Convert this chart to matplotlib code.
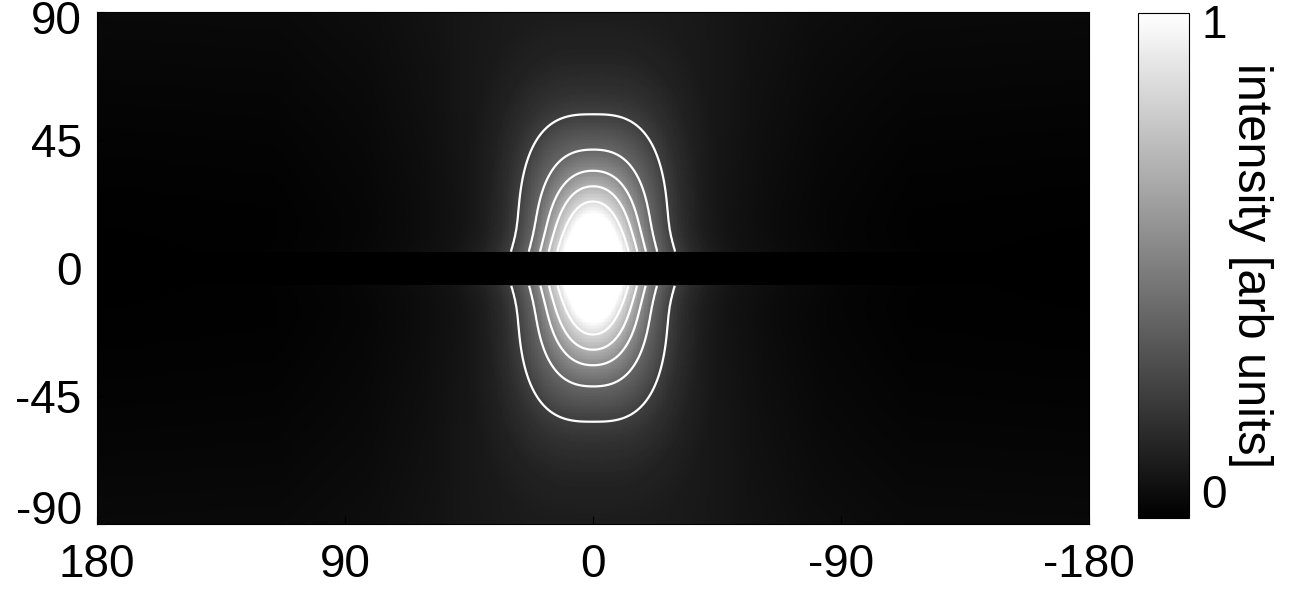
import numpy as np
import matplotlib
matplotlib.use("Agg")
import matplotlib.pyplot as plt
from matplotlib.transforms import ScaledTranslation


# axis ticks (longitude runs from +180 on the left to -180 on the right)
LON_TICKS = [180, 90, 0, -90, -180]
LAT_TICKS = [-90, -45, 0, 45, 90]
CBAR_TICKS = [0, 1]

# contour levels drawn in white
CONTOUR_LEVELS = [0.25, 0.40, 0.55, 0.70, 0.85]

# radial intensity profile (r in latitude-equivalent degrees)
PROFILE_R = [0, 12, 19, 23.2, 28.5, 33.8, 40.8, 52, 62, 75, 90, 120, 160, 220, 400]
PROFILE_I = [1.5, 1.2, 1.0, 0.85, 0.70, 0.55, 0.40, 0.25, 0.17, 0.11, 0.075, 0.045, 0.02, 0.004, 0.0]

# faint background that grows toward the poles
POLAR_FLOOR = 0.035

# shape of the bright lobe
ASPECT = 1.9          # lat extent / lon extent
INNER_POWER = 2.0     # elliptical core
OUTER_POWER = 2.9     # boxier outer lobe
BULGE_AMP = 0.12      # widening close to the equator
BULGE_WIDTH = 10.0    # deg

# blanked strip along the equator
GAP_LAT = [-6.2, 5.4]

FONT = "Liberation Sans"
FS = 33


def build_field():
    lon = np.arange(-179.75, 180, 0.5)
    lat = np.arange(-89.75, 90, 0.5)
    LON, LAT = np.meshgrid(lon, lat)
    lon_w = np.abs(LON) / (1 + BULGE_AMP * np.exp(-(LAT / BULGE_WIDTH) ** 2)) * ASPECT
    alat = np.abs(LAT)
    r_in = (lon_w ** INNER_POWER + alat ** INNER_POWER) ** (1 / INNER_POWER)
    r_out = (lon_w ** OUTER_POWER + alat ** OUTER_POWER) ** (1 / OUTER_POWER)
    w = np.clip((r_out - 18) / 32, 0, 1)
    r = r_in * (1 - w) + r_out * w
    field = np.interp(r, PROFILE_R, PROFILE_I) + POLAR_FLOOR * (alat / 90) ** 1.5
    gap = (LAT >= GAP_LAT[0]) & (LAT <= GAP_LAT[1])
    image = np.where(gap, 0.0, field)
    masked = np.ma.masked_where(gap, field)
    return lon, lat, image, masked


def main():
    plt.rcParams["font.family"] = [FONT, "DejaVu Sans"]
    plt.rcParams["axes.unicode_minus"] = False

    lon, lat, image, masked = build_field()

    fig = plt.figure(figsize=(12.98, 5.92), dpi=100)
    ax = fig.add_axes([97 / 1298, 68 / 592, 992 / 1298, 512 / 592])
    cax = fig.add_axes([1138 / 1298, 74 / 592, 51 / 1298, 505 / 592])

    im = ax.imshow(image, extent=[-180, 180, -90, 90], origin="lower", cmap="gray",
                   vmin=0, vmax=1, aspect="auto", interpolation="nearest")
    ax.contour(lon, lat, masked, levels=CONTOUR_LEVELS, colors="white", linewidths=1.6)
    ax.set_xlim(180, -180)
    ax.set_ylim(-90, 90)

    ax.set_xticks(LON_TICKS)
    ax.set_xticklabels([str(v) for v in LON_TICKS])
    ax.set_yticks(LAT_TICKS)
    ax.set_yticklabels([str(v) for v in LAT_TICKS])
    ax.tick_params(axis="x", direction="in", length=6, width=0.8, labelsize=FS, pad=14)
    ax.tick_params(axis="y", direction="in", length=6, width=0.8, labelsize=FS, pad=11)
    for s in ax.spines.values():
        s.set_linewidth(0.8)

    # keep the end labels inside, as in the original
    ylabels = ax.get_yticklabels()
    ylabels[0].set_verticalalignment("baseline")
    ylabels[-1].set_transform(ylabels[-1].get_transform()
                              + ScaledTranslation(0, -0.05, fig.dpi_scale_trans))

    cb = fig.colorbar(im, cax=cax, ticks=CBAR_TICKS)
    cb.ax.set_yticklabels([str(v) for v in CBAR_TICKS])
    cb.ax.tick_params(length=0, labelsize=FS, pad=9)
    cb.outline.set_linewidth(0.8)
    clabels = cb.ax.get_yticklabels()
    clabels[0].set_verticalalignment("bottom")
    clabels[1].set_verticalalignment("top")
    clabels[1].set_transform(clabels[1].get_transform()
                             + ScaledTranslation(0, 0.09, fig.dpi_scale_trans))

    cb.set_label("intensity [arb units]", rotation=270, fontsize=FS + 2,
                 ha="center", va="center")
    cb.ax.yaxis.set_label_coords(2.2, 0.5)

    fig.savefig("out.png", dpi=100)
    plt.close(fig)


if __name__ == "__main__":
    main()
